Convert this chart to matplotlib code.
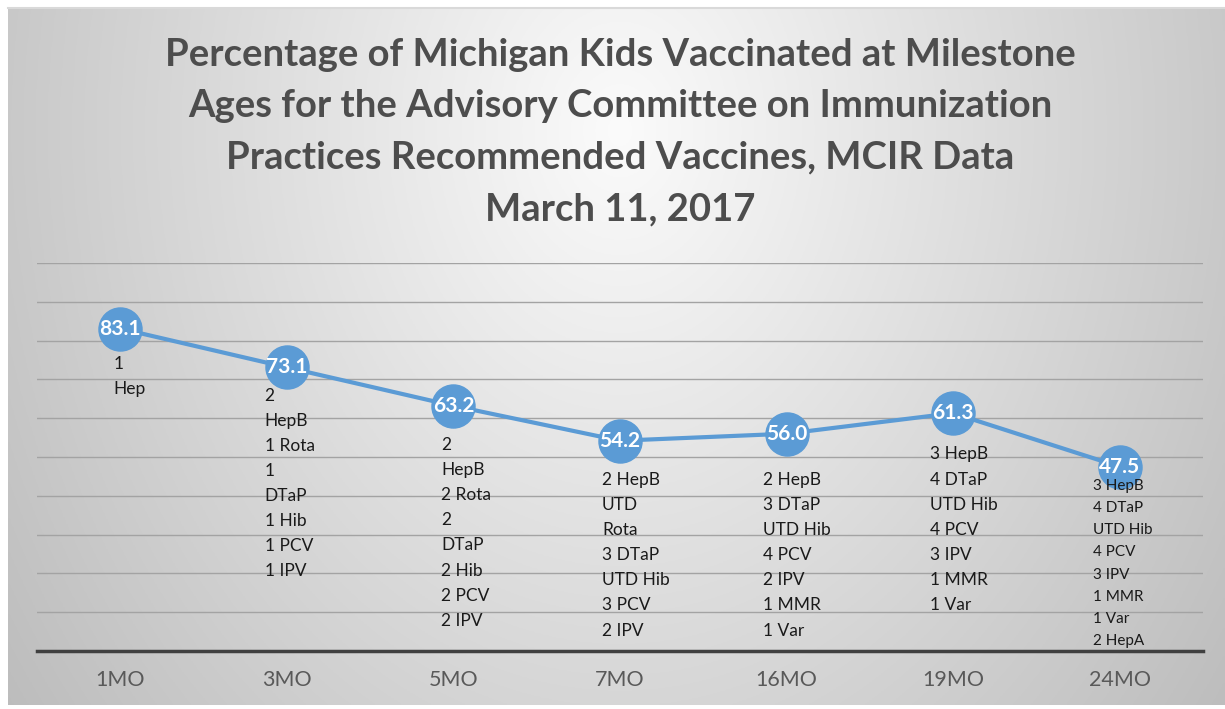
import numpy as np
import matplotlib
matplotlib.use("Agg")
import matplotlib.pyplot as plt

categories = ["1MO", "3MO", "5MO", "7MO", "16MO", "19MO", "24MO"]
values = [83.1, 73.1, 63.2, 54.2, 56.0, 61.3, 47.5]
vaccine_labels = [
    "1\nHep",
    "2\nHepB\n1 Rota\n1\nDTaP\n1 Hib\n1 PCV\n1 IPV",
    "2\nHepB\n2 Rota\n2\nDTaP\n2 Hib\n2 PCV\n2 IPV",
    "2 HepB\nUTD\nRota\n3 DTaP\nUTD Hib\n3 PCV\n2 IPV",
    "2 HepB\n3 DTaP\nUTD Hib\n4 PCV\n2 IPV\n1 MMR\n1 Var",
    "3 HepB\n4 DTaP\nUTD Hib\n4 PCV\n3 IPV\n1 MMR\n1 Var",
    "3 HepB\n4 DTaP\nUTD Hib\n4 PCV\n3 IPV\n1 MMR\n1 Var\n2 HepA",
]
title = ("Percentage of Michigan Kids Vaccinated at Milestone\n"
         "Ages for the Advisory Committee on Immunization\n"
         "Practices Recommended Vaccines, MCIR Data\n"
         "March 11, 2017")

# label placement styles (offsets in points from each point)
label_dy = [19.5, 14.5, 22.5, 22.5, 27.5, 24, 8.5]
label_dx = [-5, -16, -9, -13, -17, -17, -19.5]
label_fs = [12.5, 12.5, 12.5, 12.5, 12.5, 12.5, 11]
label_ls = [1.70, 1.70, 1.70, 1.70, 1.70, 1.70, 1.75]

W, H = 1225, 709
fig = plt.figure(figsize=(W / 100, H / 100), dpi=100)
fig.patch.set_facecolor("white")

# background gradient
bx0, by0, bx1, by1 = 8, 8, 1225, 705
bg = fig.add_axes([bx0 / W, 1 - by1 / H, (bx1 - bx0) / W, (by1 - by0) / H])
xs = np.linspace(bx0, bx1, 400)
ys = np.linspace(by0, by1, 300)
X, Y = np.meshgrid(xs, ys)
r = np.sqrt(((X - 620) / 610) ** 2 + ((Y - 130) / 780) ** 2)
g = np.clip(251 - 50 * r, 185, 251) / 255.0
img = np.dstack([g, g, g])
bg.imshow(img, aspect="auto", extent=[0, 1, 0, 1], origin="upper")
bg.set_axis_off()
bg.plot([0, 1], [1, 1], color="#d9d9d9", lw=1.5, transform=bg.transAxes, clip_on=False)

# main axes
left, right, top, bottom = 37, 1203, 263, 651
ax = fig.add_axes([left / W, 1 - bottom / H, (right - left) / W, (bottom - top) / H])
ax.set_facecolor("none")
x = np.arange(len(categories))
ax.set_xlim(-0.5, len(categories) - 0.5)
ax.set_ylim(0, 100)
ax.set_yticks(np.arange(10, 101, 10))
ax.yaxis.grid(True, color="#a3a3a3", lw=1.0)
ax.set_axisbelow(True)
ax.tick_params(axis="y", left=False, labelleft=False)
ax.tick_params(axis="x", bottom=False, pad=10, labelsize=15.5, labelcolor="#595959")
ax.set_xticks(x)
ax.set_xticklabels(categories, fontfamily="Lato")
for s in ["top", "right", "left"]:
    ax.spines[s].set_visible(False)
ax.spines["bottom"].set_color("#404040")
ax.spines["bottom"].set_linewidth(2.5)

ax.plot(x, values, color="#5B9BD5", lw=3, marker="o", markersize=31,
        markerfacecolor="#5B9BD5", markeredgecolor="#5B9BD5", zorder=3,
        solid_capstyle="round")

for i, v in enumerate(values):
    ax.text(i, v, f"{v:.1f}", ha="center", va="center", color="white",
            fontsize=15, fontweight="bold", fontfamily="Lato", zorder=4)
    ax.annotate(vaccine_labels[i], xy=(i, v), xytext=(label_dx[i], -label_dy[i]),
                textcoords="offset points", ha="left", va="top",
                multialignment="left", fontsize=label_fs[i], color="#1a1a1a",
                fontfamily="Lato", linespacing=label_ls[i], zorder=5)

fig.text(620 / W, 1 - 38 / H, title, ha="center", va="top", fontsize=27.5,
         fontweight="bold", color="#4d4d4d", fontfamily="Lato", linespacing=1.62)

fig.savefig("out.png", dpi=100)
